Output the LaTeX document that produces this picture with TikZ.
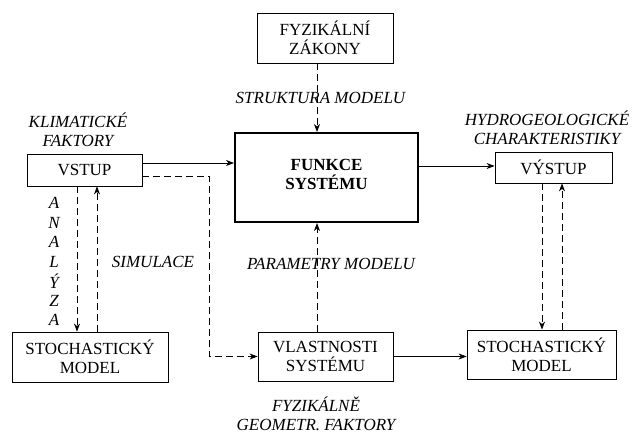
\documentclass[tikz,border=0pt]{standalone}
\usepackage{fontspec}
\setmainfont{Liberation Serif}
\newfontfamily\tms{Liberation Serif}
\usetikzlibrary{arrows.meta,calc}
\begin{document}
\begin{tikzpicture}[x=1pt,y=-1pt,
  box/.style={draw,line width=0.8pt,rectangle,inner sep=0pt,align=center,font=\tms\fontsize{17}{19}\selectfont},
  lab/.style={align=center,inner sep=0pt,font=\tms\fontsize{17}{19}\selectfont\itshape},
  arr/.style={line width=0.8pt,-{Stealth[length=8pt,width=6pt,inset=2.5pt]}},
  dsh/.style={arr,dash pattern=on 7pt off 4pt}]
\useasboundingbox (0,0) rectangle (632,435);
% boxes
\node[box,minimum width=136pt,minimum height=50pt] (zak) at (325,38) {FYZIKÁLNÍ\\ZÁKONY};
\node[box,line width=2pt,minimum width=183pt,minimum height=89pt,font=\tms\fontsize{17}{19}\selectfont\bfseries] (fun) at (326.5,177.5) {\raisebox{16pt}{\parbox{120pt}{\centering FUNKCE\\SYSTÉMU}}};
\node[box,minimum width=115pt,minimum height=32pt] (vstup) at (84.5,170) {VSTUP};
\node[box,minimum width=156pt,minimum height=50pt] (stl) at (90,357) {STOCHASTICKÝ\\MODEL};
\node[box,minimum width=135pt,minimum height=49pt] (vla) at (325.5,356.5) {VLASTNOSTI\\SYSTÉMU};
\node[box,minimum width=149pt,minimum height=49pt] (str) at (541.5,354.5) {STOCHASTICKÝ\\MODEL};
\node[box,minimum width=117pt,minimum height=31pt] (vys) at (553.5,167.5) {VÝSTUP};
% labels
\node[lab] (klim) at (78,130) {KLIMATICKÉ\\FAKTORY};
\node[lab] (hydro) at (547,128) {HYDROGEOLOGICKÉ\\CHARAKTERISTIKY};
\node[lab] (struk) at (320.5,98) {STRUKTURA MODELU};
\node[lab] (param) at (331,264) {PARAMETRY MODELU};
\node[lab] (sim) at (153,262) {SIMULACE};
\node[lab] (fyz) at (316,414) {FYZIKÁLNĚ\\GEOMETR. FAKTORY};
\foreach \l [count=\i from 0] in {A,N,A,L,Ý,Z,A}
  \node[lab] (an\i) at (54,203+19.5*\i) {\l};
% connectors
\coordinate (a1) at ([yshift=7pt]vstup.east);
\draw[arr] (a1) -- (a1 -| fun.west);
\coordinate (a2) at ([yshift=1.5pt]vys.west);
\draw[arr] (a2 -| fun.east) -- (a2);
\draw[arr] (vla.east) -- (vla.east -| str.west);
\coordinate (d1) at ([yshift=-6pt]vstup.east);
\draw[dsh] (d1) -- ++(67,0) |- (vla.west);
\coordinate (z1) at ([xshift=-8pt]zak.south);
\draw[dsh] (z1) -- (z1 |- fun.north);
\coordinate (p1) at ([xshift=-8.5pt]vla.north);
\draw[dsh] (p1) -- (p1 |- fun.south);
\coordinate (l1) at ([xshift=-7.5pt]vstup.south);
\coordinate (l2) at ([xshift=12.5pt]vstup.south);
\draw[dsh] (l1) -- (l1 |- stl.north);
\draw[dsh] (l2 |- stl.north) -- (l2);
\coordinate (r1) at ([xshift=-11.5pt]vys.south);
\coordinate (r2) at ([xshift=8.5pt]vys.south);
\draw[dsh] (r1) -- (r1 |- str.north);
\draw[dsh] (r2 |- str.north) -- (r2);
\end{tikzpicture}
\end{document}
